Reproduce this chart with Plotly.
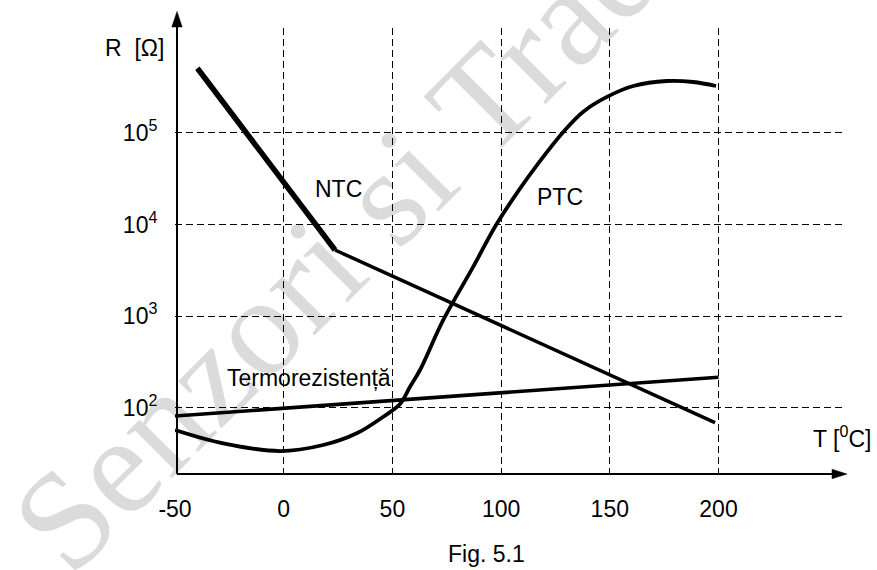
import plotly.graph_objects as go

# ---------------- data ----------------
temp_ticks = [-50, 0, 50, 100, 150, 200]
temp_tick_labels = ["-50", "0", "50", "100", "150", "200"]
r_ticks = [100, 1000, 10000, 100000]
r_tick_labels = ["10<sup>2</sup>", "10<sup>3</sup>", "10<sup>4</sup>", "10<sup>5</sup>"]

ntc_T = [-39.7, 23.6, 198.4]
ntc_R = [507000, 5260, 68.6]

ptc_T = [-50, -27.8, -1.7, 18.2, 33.6, 45.8, 53.5, 58.1, 62.7, 73.4, 87.2, 97.2,
         105.6, 114.8, 129.4, 137.8, 148.9, 160.8, 176.2, 188.4, 198.9]
ptc_R = [57.0, 40.8, 33.6, 39.1, 52.5, 79.6, 109.6, 169.4, 257.6, 906, 3459, 9440,
         19280, 39270, 107400, 170200, 248300, 324600, 368000, 359000, 324600]

rtd_T = [-50, 200]
rtd_R = [81.1, 214.5]

# ---------------- geometry ----------------
W, H = 877, 570
ML, MR, MT, MB = 175, 34, 28, 96
PW, PH = W - ML - MR, H - MT - MB


def pp(px, py):
    """pixel -> paper coordinates (for decorations only)"""
    return (px - ML) / PW, (H - MB - py) / PH


FONT = "Liberation Sans, Arial, sans-serif"
FS = 23

fig = go.Figure()

# NTC: steep thick segment, then thinner segment
fig.add_trace(go.Scatter(x=ntc_T[:2], y=ntc_R[:2], mode="lines",
                         line=dict(color="black", width=5.5), showlegend=False,
                         hoverinfo="skip"))
fig.add_trace(go.Scatter(x=ntc_T[1:], y=ntc_R[1:], mode="lines",
                         line=dict(color="black", width=3.5), showlegend=False,
                         hoverinfo="skip"))
# PTC
fig.add_trace(go.Scatter(x=ptc_T, y=ptc_R, mode="lines",
                         line=dict(color="black", width=3.8, shape="spline", smoothing=1.0),
                         showlegend=False, hoverinfo="skip"))
# Termorezistenta
fig.add_trace(go.Scatter(x=rtd_T, y=rtd_R, mode="lines",
                         line=dict(color="black", width=3.6), showlegend=False,
                         hoverinfo="skip"))

shapes = []
# y axis line + arrow
x0, y0 = pp(177, 474)
x1, y1 = pp(177, 26)
shapes.append(dict(type="line", xref="paper", yref="paper", x0=x0, y0=y0, x1=x1, y1=y1,
                   line=dict(color="black", width=2)))
a = pp(177, 11.5); b = pp(171.8, 27); c = pp(182.2, 27)
shapes.append(dict(type="path", xref="paper", yref="paper",
                   path=f"M {a[0]} {a[1]} L {b[0]} {b[1]} L {c[0]} {c[1]} Z",
                   fillcolor="black", line=dict(color="black", width=0.5)))
# x axis line + arrow
x0, y0 = pp(177, 474)
x1, y1 = pp(833, 474)
shapes.append(dict(type="line", xref="paper", yref="paper", x0=x0, y0=y0, x1=x1, y1=y1,
                   line=dict(color="black", width=2)))
a = pp(847, 474); b = pp(832, 469.2); c = pp(832, 478.8)
shapes.append(dict(type="path", xref="paper", yref="paper",
                   path=f"M {a[0]} {a[1]} L {b[0]} {b[1]} L {c[0]} {c[1]} Z",
                   fillcolor="black", line=dict(color="black", width=0.5)))

annotations = []


def label(text, px, py, xanchor="left", yanchor="middle", size=FS):
    x, y = pp(px, py)
    annotations.append(dict(text=text, x=x, y=y, xref="paper", yref="paper",
                            xanchor=xanchor, yanchor=yanchor, showarrow=False,
                            font=dict(family=FONT, size=size, color="black")))


# watermark
wx, wy = pp(482, 100)
annotations.append(dict(text="Senzori si Traductoare", x=wx, y=wy, xref="paper", yref="paper",
                        xanchor="center", yanchor="middle", showarrow=False, textangle=-45,
                        font=dict(family="Liberation Serif, Times New Roman, serif",
                                  size=140, color="rgba(0,0,0,0.14)")))

label("R\u00a0 [\u03a9]", 103, 48)
label("NTC", 313, 189)
label("PTC", 535, 196.7)
label("Termorezisten\u021b\u0103", 225, 378.3)
label("T [<sup>0</sup>C]", 811, 436.7)
label("Fig. 5.1", 446, 569, yanchor="bottom")

fig.update_layout(
    width=W, height=H,
    margin=dict(l=ML, r=MR, t=MT, b=MB, pad=0, autoexpand=False),
    paper_bgcolor="white", plot_bgcolor="white",
    font=dict(family=FONT, size=FS, color="black"),
    shapes=shapes, annotations=annotations,
    xaxis=dict(range=[-50, 257.27], tickmode="array", tickvals=temp_ticks,
               ticktext=temp_tick_labels, showgrid=True, gridcolor="black",
               gridwidth=1.3, griddash="7px,4px", zeroline=False, showline=False,
               ticks="outside", ticklen=14, tickcolor="rgba(0,0,0,0)", automargin=False),
    yaxis=dict(type="log", range=[1.2756, 6.1447], tickmode="array", tickvals=r_ticks,
               ticktext=r_tick_labels, showgrid=True, gridcolor="black",
               gridwidth=1.3, griddash="7px,4px", zeroline=False, showline=False,
               ticks="outside", ticklen=12, tickcolor="rgba(0,0,0,0)", automargin=False),
)

fig.write_html("out.html", config={"displayModeBar": False},
               post_script="document.body.style.margin='0';document.body.style.overflow='hidden';")
